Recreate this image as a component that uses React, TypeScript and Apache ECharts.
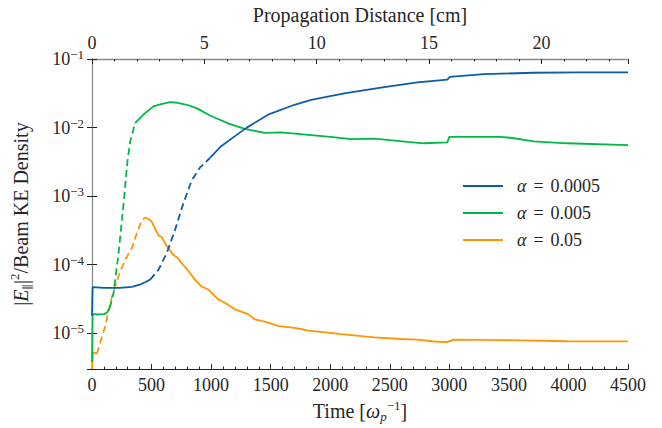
import React, { useEffect, useRef } from "react";
import * as echarts from "echarts";

type P = [number, number];

const FONT = "'Liberation Serif', 'DejaVu Serif', serif";
const seriesNames = ["α = 0.0005", "α = 0.005", "α = 0.05"];
const alphaValues = ["0.0005", "0.005", "0.05"];
const colors = ["#0C5DA5", "#00B945", "#FF9500"];

// α = 0.0005
const blueEarly: P[] = [[0, 1.8e-5], [5, 4.7e-5], [100, 4.6e-5], [234, 4.6e-5], [335, 4.75e-5], [400, 5.1e-5], [450, 5.6e-5], [488, 6.05e-5]];
const blueGrowth: P[] = [[488, 6.05e-5], [558, 8.4e-5], [627, 1.47e-4], [697, 3.2e-4], [767, 7.8e-4], [836, 1.68e-3], [906, 2.6e-3], [990, 3.6e-3]];
const blueLate: P[] = [[990, 3.6e-3], [1087, 5.4e-3], [1200, 7.5e-3], [1296, 9.9e-3], [1478, 1.54e-2], [1700, 2.15e-2], [1840, 2.54e-2], [2119, 3.16e-2], [2425, 3.82e-2], [2732, 4.55e-2], [2983, 5.0e-2], [3005, 5.5e-2], [3290, 6.0e-2], [3708, 6.3e-2], [4100, 6.4e-2], [4500, 6.4e-2]];

// α = 0.005
const greenEarly: P[] = [[0, 3.8e-6], [5, 1.9e-5], [60, 1.88e-5], [100, 1.9e-5], [125, 2.0e-5], [150, 2.35e-5]];
const greenGrowth: P[] = [[150, 2.35e-5], [181, 3.9e-5], [195, 6.0e-5], [223, 1.47e-4], [251, 4.45e-4], [273, 1.08e-3], [298, 3.27e-3], [321, 6.3e-3], [362, 1.16e-2]];
const greenLate: P[] = [[362, 1.16e-2], [432, 1.55e-2], [516, 2.04e-2], [580, 2.2e-2], [655, 2.35e-2], [720, 2.3e-2], [795, 2.15e-2], [878, 1.92e-2], [990, 1.5e-2], [1143, 1.15e-2], [1282, 9.6e-3], [1450, 8.35e-3], [1589, 8.5e-3], [1840, 7.74e-3], [2000, 7.3e-3], [2175, 6.8e-3], [2370, 6.9e-3], [2649, 6.2e-3], [2788, 5.9e-3], [2983, 6.1e-3], [3000, 7.3e-3], [3429, 7.3e-3], [3513, 7.1e-3], [3708, 6.3e-3], [3987, 5.9e-3], [4500, 5.56e-3]];

// α = 0.05
const orangeEarly: P[] = [[0, 3.0e-6], [5, 4.8e-6], [20, 5.3e-6], [40, 5.0e-6]];
const orangeGrowth: P[] = [[40, 5.0e-6], [70, 7.4e-6], [112, 1.28e-5], [153, 2.8e-5], [195, 4.85e-5], [237, 8.0e-5], [293, 1.31e-4], [335, 1.75e-4], [376, 2.86e-4], [418, 4.45e-4], [446, 4.86e-4]];
const orangeLate: P[] = [[446, 4.86e-4], [480, 4.6e-4], [502, 4.2e-4], [544, 3.0e-4], [560, 2.65e-4], [585, 2.55e-4], [610, 2.1e-4], [641, 1.74e-4], [683, 1.39e-4], [720, 1.25e-4], [753, 1.05e-4], [800, 8.5e-5], [864, 6.05e-5], [920, 4.8e-5], [976, 4.35e-5], [1059, 3.12e-5], [1115, 2.79e-5], [1199, 2.23e-5], [1310, 1.9e-5], [1366, 1.6e-5], [1450, 1.48e-5], [1561, 1.28e-5], [1729, 1.18e-5], [1812, 1.09e-5], [1980, 1.02e-5], [2091, 9.7e-6], [2370, 8.7e-6], [2593, 8.25e-6], [2732, 8.05e-6], [2871, 7.58e-6], [2983, 7.4e-6], [3039, 8.05e-6], [3429, 7.95e-6], [3987, 7.65e-6], [4500, 7.6e-6]];

const groups: P[][][] = [
  [blueEarly, blueGrowth, blueLate],
  [greenEarly, greenGrowth, greenLate],
  [orangeEarly, orangeGrowth, orangeLate],
];

const TEXT = "#262626";
const TICK_FS = 18;
const NAME_FS = 20;

export default function App() {
  const ref = useRef<HTMLDivElement>(null);
  useEffect(() => {
    if (!ref.current) return;
    const chart = echarts.init(ref.current, null, { renderer: "svg" });
    const series: any[] = [];
    groups.forEach((segs, i) => {
      segs.forEach((seg, j) => {
        series.push({
          type: "line",
          name: seriesNames[i],
          data: seg,
          xAxisIndex: 0,
          yAxisIndex: 0,
          symbol: "none",
          z: 3 - i,
          lineStyle: { color: colors[i], width: 1.8, type: j === 1 ? [7, 4] : "solid" },
          itemStyle: { color: colors[i] },
        });
      });
    });
    const tickStyle = { color: "#222", width: 1 };
    const expRich = {
      b: { fontFamily: FONT, fontSize: TICK_FS, color: TEXT, lineHeight: 22 },
      s: { fontFamily: FONT, fontSize: 13, color: TEXT, verticalAlign: "top", lineHeight: 12 },
    };
    chart.setOption({
      animation: false,
      backgroundColor: "#fff",
      textStyle: { fontFamily: FONT },
      grid: { left: 90, right: 34, top: 57, bottom: 57, containLabel: false },
      legend: {
        data: seriesNames,
        orient: "vertical",
        left: 458,
        top: 171,
        itemWidth: 40,
        itemHeight: 2,
        itemGap: 7,
        icon: "rect",
        formatter: (name: string) => `{i|α}{e|=}{r|${alphaValues[seriesNames.indexOf(name)]}}`,
        textStyle: {
          color: TEXT,
          fontFamily: FONT,
          fontSize: 18,
          lineHeight: 20,
          padding: [0, 0, 0, 9],
          rich: {
            i: { fontFamily: FONT, fontSize: 18, fontStyle: "italic", color: TEXT },
            e: { fontFamily: FONT, fontSize: 18, color: TEXT, padding: [0, 7, 0, 7] },
            r: { fontFamily: FONT, fontSize: 18, color: TEXT },
          },
        },
      },
      xAxis: [
        {
          type: "value",
          position: "bottom",
          min: 0,
          max: 4500,
          interval: 500,
          name: "{r|Time [}{i|ω}{sub|p}{sup|−1}{r|]}",
          nameLocation: "middle",
          nameGap: 27,
          nameTextStyle: {
            rich: {
              r: { fontFamily: FONT, fontSize: NAME_FS, color: TEXT, lineHeight: 24 },
              i: { fontFamily: FONT, fontSize: NAME_FS, fontStyle: "italic", color: TEXT, lineHeight: 24 },
              sub: { fontFamily: FONT, fontSize: 13, fontStyle: "italic", color: TEXT, verticalAlign: "bottom", lineHeight: 13 },
              sup: { fontFamily: FONT, fontSize: 13, color: TEXT, verticalAlign: "top", lineHeight: 13 },
            },
          },
          axisLine: { show: true, lineStyle: { color: "#222", width: 1 } },
          axisTick: { show: true, inside: true, length: 5, lineStyle: tickStyle },
          minorTick: { show: true, splitNumber: 5, length: 2.5, lineStyle: tickStyle },
          splitLine: { show: false },
          axisLabel: { color: TEXT, fontFamily: FONT, fontSize: TICK_FS, margin: 7, formatter: (v: number) => String(v) },
        },
        {
          type: "value",
          position: "top",
          min: 0,
          max: 23.85,
          interval: 5,
          name: "Propagation Distance [cm]",
          nameLocation: "middle",
          nameGap: 34,
          nameTextStyle: { color: TEXT, fontFamily: FONT, fontSize: NAME_FS },
          axisLine: { show: true, lineStyle: { color: "#8c8c8c", width: 1.3 } },
          axisTick: { show: true, inside: true, length: 5, lineStyle: tickStyle },
          minorTick: { show: true, splitNumber: 5, length: 2.5, lineStyle: tickStyle },
          splitLine: { show: false },
          axisLabel: { color: TEXT, fontFamily: FONT, fontSize: TICK_FS, margin: 7, showMaxLabel: false, formatter: (v: number) => String(v) },
        },
      ],
      yAxis: [
        {
          type: "log",
          logBase: 10,
          min: 3e-6,
          max: 0.1,
          position: "left",
          name: "{r||}{i|E}{sub|∥}{r||}{sup|2}{r|/Beam KE Density}",
          nameLocation: "middle",
          nameGap: 58,
          nameRotate: 90,
          nameTextStyle: {
            rich: {
              r: { fontFamily: FONT, fontSize: NAME_FS, color: TEXT, lineHeight: 26 },
              i: { fontFamily: FONT, fontSize: NAME_FS, fontStyle: "italic", color: TEXT, lineHeight: 26 },
              sub: { fontFamily: FONT, fontSize: 12, color: TEXT, verticalAlign: "bottom", lineHeight: 13 },
              sup: { fontFamily: FONT, fontSize: 13, color: TEXT, verticalAlign: "top", lineHeight: 13 },
            },
          },
          axisLine: { show: true, lineStyle: { color: "#222", width: 1 } },
          axisTick: { show: true, inside: true, length: 5, lineStyle: tickStyle },
          minorTick: { show: false },
          splitLine: { show: false },
          axisLabel: {
            showMinLabel: false,
            margin: 8,
            formatter: (v: number) => {
              const e = Math.round(Math.log10(v));
              return `{b|10}{s|${e < 0 ? "−" + -e : e}}`;
            },
            rich: expRich,
          },
        },
        {
          type: "log",
          logBase: 10,
          min: 3e-6,
          max: 0.1,
          position: "right",
          axisLine: { show: true, lineStyle: { color: "#8c8c8c", width: 1.3 } },
          axisTick: { show: true, inside: true, length: 5, lineStyle: tickStyle },
          minorTick: { show: false },
          splitLine: { show: false },
          axisLabel: { show: false },
        },
      ],
      series,
    });
    return () => chart.dispose();
  }, []);
  return <div ref={ref} style={{ position: "fixed", left: 0, top: 0, width: 662, height: 428 }} />;
}
